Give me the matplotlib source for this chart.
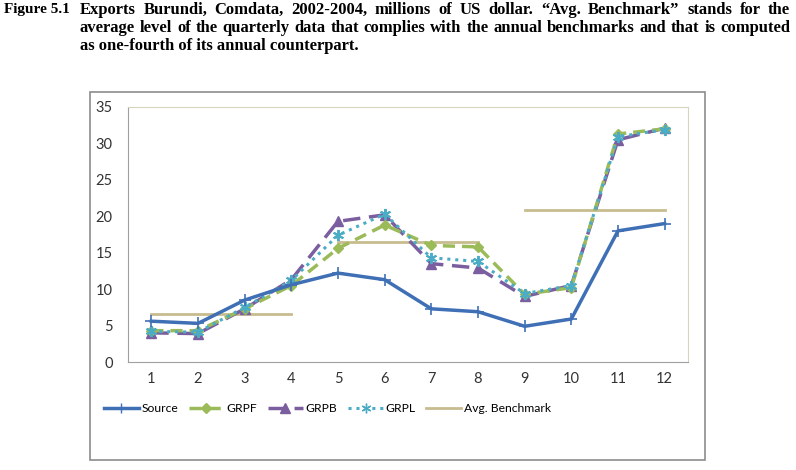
import matplotlib
matplotlib.use("Agg")
import matplotlib.pyplot as plt
from matplotlib.patches import Rectangle
from matplotlib.lines import Line2D

quarters = list(range(1, 13))
source = [5.6, 5.3, 8.5, 10.6, 12.2, 11.3, 7.3, 6.9, 4.9, 5.9, 18.0, 19.0]
grpf = [4.3, 4.3, 7.3, 10.5, 15.6, 18.8, 16.0, 15.8, 9.3, 10.2, 31.3, 32.0]
grpb = [4.0, 3.9, 7.3, 11.3, 19.3, 20.2, 13.5, 12.9, 9.0, 10.5, 30.5, 32.1]
grpl = [4.2, 4.1, 7.5, 11.2, 17.4, 20.3, 14.3, 13.8, 9.4, 10.5, 30.9, 31.9]
bench_years = [(1, 4), (5, 8), (9, 12)]
bench_vals = [6.6, 16.5, 20.8]
yticks = [0, 5, 10, 15, 20, 25, 30, 35]

title_lines = [
    "Exports Burundi, Comdata, 2002-2004, millions of US dollar. \u201cAvg. Benchmark\u201d stands for the",
    "average level of the quarterly data that complies with the annual benchmarks and that is computed",
    "as one-fourth of its annual counterpart.",
]

W, H = 796, 470
fig = plt.figure(figsize=(W / 100, H / 100), dpi=100)
renderer = fig.canvas.get_renderer()

# Title (justified)
tfont = dict(family=["Liberation Serif", "DejaVu Serif"], weight="bold", fontsize=12)
fig.text(4 / W, 1 - 10 / H, "Figure 5.1", va="center", ha="left",
         family=["Liberation Serif", "DejaVu Serif"], weight="bold", fontsize=11)
left_px, right_px = 80, 790
for i, line in enumerate(title_lines):
    y = 1 - (10 + 18 * i) / H
    if i == len(title_lines) - 1:
        fig.text(left_px / W, y, line, va="center", ha="left", **tfont)
        continue
    words = line.split(" ")
    widths = []
    for w in words:
        t = fig.text(0, 0, w, **tfont)
        widths.append(t.get_window_extent(renderer).width)
        t.remove()
    gap = (right_px - left_px - sum(widths)) / (len(words) - 1)
    x = left_px
    for w, wd in zip(words, widths):
        fig.text(x / W, y, w, va="center", ha="left", **tfont)
        x += wd + gap

# chart frame
fig.patches.append(Rectangle((90 / W, 1 - 460 / H), 615 / W, 368 / H,
                             transform=fig.transFigure, fill=False,
                             edgecolor="#8c8c8c", linewidth=1.2))

ax = fig.add_axes([128 / W, 1 - 362 / H, 560 / W, 255 / H])
ax.set_xlim(0.5, 12.5)
ax.set_ylim(0, 35)
ax.set_yticks(yticks)
ax.set_xticks(quarters)
ax.tick_params(length=0, labelsize=10.5, colors="#333333")
ax.tick_params(axis="y", pad=11)
ax.tick_params(axis="x", pad=7)
for lab in ax.get_xticklabels() + ax.get_yticklabels():
    lab.set_family(["Lato", "DejaVu Sans"])
for s in ax.spines.values():
    s.set_color("#d8d4c0")
    s.set_linewidth(0.8)
ax.spines["left"].set_color("#a0a0a0")
ax.spines["bottom"].set_color("#a0a0a0")

c_src = "#3f6fb5"
c_f = "#9bbb59"
c_b = "#7b5ea0"
c_l = "#4bacc6"
c_bm = "#c8bc8e"

for (a, b), v in zip(bench_years, bench_vals):
    ax.plot([a, b], [v, v], color=c_bm, lw=2, zorder=2)
ax.plot(quarters, grpb, color=c_b, lw=2.5, ls=(0, (5, 2.5)), marker="^", ms=7, zorder=3)
ax.plot(quarters, grpf, color=c_f, lw=2.5, ls=(0, (3.5, 2)), marker="D", ms=5.5, zorder=4)
ax.plot(quarters, grpl, color=c_l, lw=2.2, ls=(0, (1, 1.6)), marker=(6, 2, 0), ms=8, mew=1.4, zorder=5)
ax.plot(quarters, source, color=c_src, lw=2.5, marker="+", ms=8, mew=1.2, zorder=6)

handles = [
    Line2D([], [], color=c_src, lw=2.5, marker="+", ms=7),
    Line2D([], [], color=c_f, lw=2.5, ls=(0, (3.5, 2)), marker="D", ms=5),
    Line2D([], [], color=c_b, lw=2.5, ls=(0, (5, 2.5)), marker="^", ms=6.5),
    Line2D([], [], color=c_l, lw=2.2, ls=(0, (1, 1.6)), marker=(6, 2, 0), ms=7),
    Line2D([], [], color=c_bm, lw=2),
]
labels = ["Source", "GRPF", "GRPB", "GRPL", "Avg. Benchmark"]
leg = fig.legend(handles, labels, loc="center left", bbox_to_anchor=(93 / W, 1 - 409 / H),
                 ncol=5, frameon=False, handlelength=2.9,
                 handletextpad=0.2, columnspacing=0.9,
                 prop={"family": ["Lato", "DejaVu Sans"], "size": 8.7})

fig.savefig("out.png", dpi=100)
